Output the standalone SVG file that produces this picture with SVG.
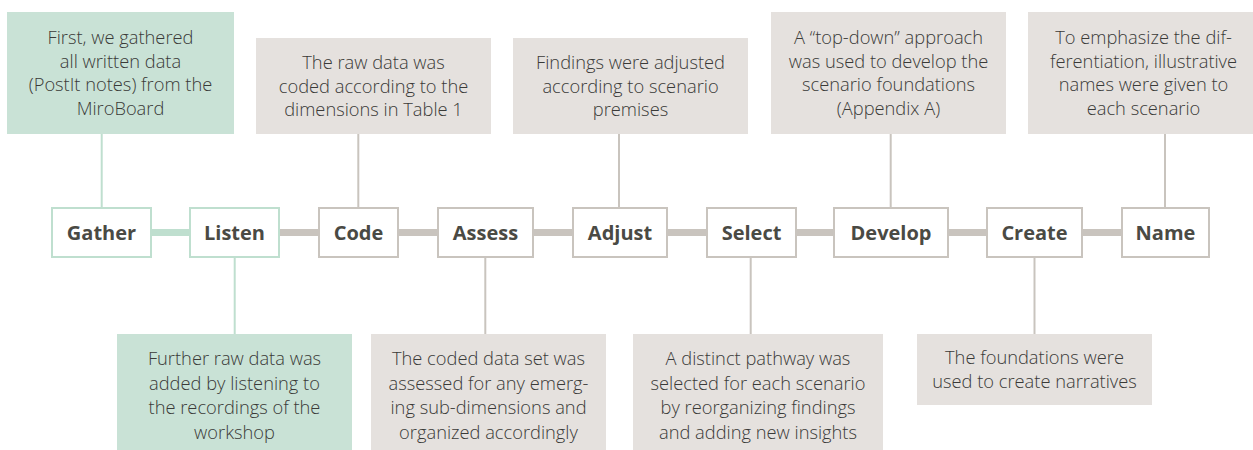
<svg xmlns="http://www.w3.org/2000/svg" width="1253" height="450" viewBox="0 0 1253 450">
<style>
.ng{fill:#c9e2d6}
.nr{fill:#e5e1de}
.nt{font-family:"Open Sans","Liberation Sans",sans-serif;font-weight:300;font-size:18.3px;fill:#3a3a38;text-anchor:middle}
.bx{fill:#ffffff;stroke-width:2}
.sg{stroke:#bfdfcf}
.sr{stroke:#c9c4be}
.lb{font-family:"Open Sans","Liberation Sans",sans-serif;font-weight:bold;font-size:20px;fill:#4a4a44;text-anchor:middle}
.vg{stroke:#bfdfcf;stroke-width:2;fill:none}
.vr{stroke:#c9c4be;stroke-width:2;fill:none}
.hg{stroke:#bfdfcf;stroke-width:7;fill:none}
.hr{stroke:#c9c4be;stroke-width:7;fill:none}
</style>
<rect width="1253" height="450" fill="#ffffff"/>
<g id="connectors">
<line class="hg" x1="152" y1="232.5" x2="190" y2="232.5"/>
<line class="hr" x1="280" y1="232.5" x2="319" y2="232.5"/>
<line class="hr" x1="399" y1="232.5" x2="438" y2="232.5"/>
<line class="hr" x1="534" y1="232.5" x2="573" y2="232.5"/>
<line class="hr" x1="668" y1="232.5" x2="707" y2="232.5"/>
<line class="hr" x1="797" y1="232.5" x2="834" y2="232.5"/>
<line class="hr" x1="949" y1="232.5" x2="987" y2="232.5"/>
<line class="hr" x1="1083" y1="232.5" x2="1122" y2="232.5"/>
<line class="vg" x1="101.7" y1="134" x2="101.7" y2="207"/>
<line class="vg" x1="234.7" y1="258" x2="234.7" y2="334"/>
<line class="vr" x1="358.3" y1="134" x2="358.3" y2="207"/>
<line class="vr" x1="485.3" y1="258" x2="485.3" y2="334"/>
<line class="vr" x1="619" y1="134" x2="619" y2="207"/>
<line class="vr" x1="750.7" y1="258" x2="750.7" y2="334"/>
<line class="vr" x1="890.7" y1="134" x2="890.7" y2="207"/>
<line class="vr" x1="1034.5" y1="258" x2="1034.5" y2="334"/>
<line class="vr" x1="1165" y1="134" x2="1165" y2="207"/>
</g>
<g id="gather">
<rect class="bx sg" x="52" y="208" width="99" height="49"/>
<text class="lb" x="101.5" y="239.5">Gather</text>
</g>
<g id="listen">
<rect class="bx sg" x="190" y="208" width="89" height="49"/>
<text class="lb" x="234.5" y="239.5">Listen</text>
</g>
<g id="code">
<rect class="bx sr" x="319" y="208" width="79" height="49"/>
<text class="lb" x="358.5" y="239.5">Code</text>
</g>
<g id="assess">
<rect class="bx sr" x="438" y="208" width="95" height="49"/>
<text class="lb" x="485.5" y="239.5">Assess</text>
</g>
<g id="adjust">
<rect class="bx sr" x="573" y="208" width="94" height="49"/>
<text class="lb" x="620" y="239.5">Adjust</text>
</g>
<g id="select">
<rect class="bx sr" x="707" y="208" width="89" height="49"/>
<text class="lb" x="751.5" y="239.5">Select</text>
</g>
<g id="develop">
<rect class="bx sr" x="834" y="208" width="114" height="49"/>
<text class="lb" x="891" y="239.5">Develop</text>
</g>
<g id="create">
<rect class="bx sr" x="987" y="208" width="95" height="49"/>
<text class="lb" x="1034.5" y="239.5">Create</text>
</g>
<g id="name">
<rect class="bx sr" x="1122" y="208" width="87" height="49"/>
<text class="lb" x="1165.5" y="239.5">Name</text>
</g>
<g id="note-gather">
<rect class="ng" x="7" y="12" width="227" height="122"/>
<text class="nt" x="120.5" y="44">First, we gathered</text>
<text class="nt" x="120.5" y="67.5">all written data</text>
<text class="nt" x="120.5" y="91">(PostIt notes) from the</text>
<text class="nt" x="120.5" y="114.5">MiroBoard</text>
</g>
<g id="note-code">
<rect class="nr" x="256" y="38" width="235" height="96"/>
<text class="nt" x="373.5" y="69">The raw data was</text>
<text class="nt" x="373.5" y="92.5">coded according to the</text>
<text class="nt" x="373.5" y="116">dimensions in Table 1</text>
</g>
<g id="note-adjust">
<rect class="nr" x="513" y="38" width="235" height="96"/>
<text class="nt" x="630.5" y="69">Findings were adjusted</text>
<text class="nt" x="630.5" y="92.5">according to scenario</text>
<text class="nt" x="630.5" y="116">premises</text>
</g>
<g id="note-develop">
<rect class="nr" x="771" y="12" width="235" height="122"/>
<text class="nt" x="888.5" y="44">A “top-down” approach</text>
<text class="nt" x="888.5" y="67.5">was used to develop the</text>
<text class="nt" x="888.5" y="91">scenario foundations</text>
<text class="nt" x="888.5" y="114.5">(Appendix A)</text>
</g>
<g id="note-name">
<rect class="nr" x="1028" y="12" width="235" height="122"/>
<text class="nt" x="1143.5" y="44">To emphasize the dif-</text>
<text class="nt" x="1143.5" y="67.5">ferentiation, illustrative</text>
<text class="nt" x="1143.5" y="91">names were given to</text>
<text class="nt" x="1143.5" y="114.5">each scenario</text>
</g>
<g id="note-listen">
<rect class="ng" x="117" y="334" width="235" height="116"/>
<text class="nt" x="234.5" y="365">Further raw data was</text>
<text class="nt" x="234.5" y="389.5">added by listening to</text>
<text class="nt" x="234.5" y="414">the recordings of the</text>
<text class="nt" x="234.5" y="438.5">workshop</text>
</g>
<g id="note-assess">
<rect class="nr" x="371" y="334" width="235" height="116"/>
<text class="nt" x="488.5" y="365">The coded data set was</text>
<text class="nt" x="488.5" y="389.5">assessed for any emerg-</text>
<text class="nt" x="488.5" y="414">ing sub-dimensions and</text>
<text class="nt" x="488.5" y="438.5">organized accordingly</text>
</g>
<g id="note-select">
<rect class="nr" x="633" y="334" width="250" height="116"/>
<text class="nt" x="758" y="365">A distinct pathway was</text>
<text class="nt" x="758" y="389.5">selected for each scenario</text>
<text class="nt" x="758" y="414">by reorganizing findings</text>
<text class="nt" x="758" y="438.5">and adding new insights</text>
</g>
<g id="note-create">
<rect class="nr" x="917" y="334" width="235" height="71"/>
<text class="nt" x="1034.5" y="364">The foundations were</text>
<text class="nt" x="1034.5" y="388">used to create narratives</text>
</g>
</svg>
